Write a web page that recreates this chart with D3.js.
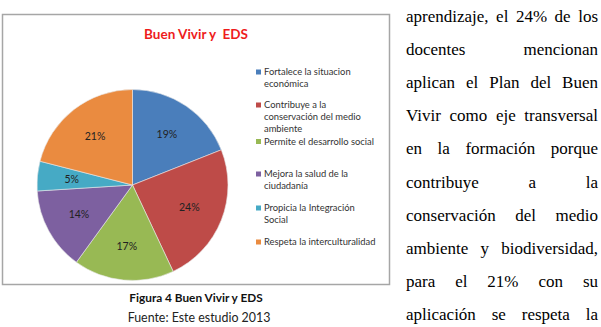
<!DOCTYPE html>
<html>
<head>
<meta charset="utf-8">
<script src="https://cdn.jsdelivr.net/npm/d3@7"></script>
<style>
  body { margin: 0; background: #fff; }
  svg { display: block; }
</style>
</head>
<body>
<script>
// data
var categories = [
    ['Fortalece la situacion', 'económica'],
    ['Contribuye a la', 'conservación del medio', 'ambiente'],
    ['Permite el desarrollo social'],
    ['Mejora la salud de la', 'ciudadanía'],
    ['Propicia la Integración', 'Social'],
    ['Respeta la interculturalidad']
];
var values = [19, 24, 17, 14, 5, 21];
var colors = ['#4a7ebb', '#be4b48', '#98b954', '#7d60a0', '#46aac5', '#ea8b40'];
var legendY = [72, 105, 141.5, 174, 208, 242];

var bodyLines = [
    'aprendizaje, el 24% de los',
    'docentes mencionan',
    'aplican el Plan del Buen',
    'Vivir como eje transversal',
    'en la formación porque',
    'contribuye a la',
    'conservación del medio',
    'ambiente y biodiversidad,',
    'para el 21% con su',
    'aplicación se respeta la'
];

var width = 601, height = 327,
    sans = 'Lato, "Open Sans", sans-serif';

var svg = d3.select('body').append('svg')
    .attr('width', width)
    .attr('height', height);

// chart frame
svg.append('rect')
    .attr('x', 2.5).attr('y', 14.5)
    .attr('width', 387).attr('height', 270)
    .attr('fill', '#fff')
    .attr('stroke', '#a6a6a6')
    .attr('stroke-width', 1.5);

svg.append('text')
    .attr('x', 196).attr('y', 39)
    .attr('text-anchor', 'middle')
    .attr('font-family', sans)
    .attr('font-weight', 'bold')
    .attr('font-size', 13.5)
    .attr('fill', '#ee1c1c')
    .attr('xml:space', 'preserve')
    .text('Buen Vivir y  EDS');

// pie
var cx = 132.5, cy = 185, r = 95.5;

var pie = d3.pie().sort(null).value(function (d) { return d; });
var arc = d3.arc().innerRadius(0).outerRadius(r);
var labelArc = d3.arc().innerRadius(r * 0.64).outerRadius(r * 0.64);

var g = svg.append('g').attr('transform', 'translate(' + cx + ',' + cy + ')');
var slices = pie(values);

g.selectAll('path')
    .data(slices)
    .enter().append('path')
    .attr('d', arc)
    .attr('fill', function (d, i) { return colors[i]; })
    .attr('stroke', '#e8e8e8')
    .attr('stroke-width', 0.6);

g.selectAll('text')
    .data(slices)
    .enter().append('text')
    .attr('transform', function (d) { return 'translate(' + labelArc.centroid(d) + ')'; })
    .attr('dy', '0.35em')
    .attr('text-anchor', 'middle')
    .attr('font-family', sans)
    .attr('font-size', 10.5)
    .attr('fill', '#222')
    .text(function (d) { return d.data + '%'; });

// legend
var legend = svg.append('g');
categories.forEach(function (lines, i) {
    legend.append('rect')
        .attr('x', 256).attr('y', legendY[i] - 2.5)
        .attr('width', 5).attr('height', 5)
        .attr('fill', colors[i]);
    lines.forEach(function (t, j) {
        legend.append('text')
            .attr('x', 264)
            .attr('y', legendY[i] + j * 12)
            .attr('dy', '0.35em')
            .attr('font-family', sans)
            .attr('font-size', 9.4)
            .attr('fill', '#333')
            .text(t);
    });
});

// caption
svg.append('text')
    .attr('x', 196).attr('y', 302)
    .attr('text-anchor', 'middle')
    .attr('font-family', sans)
    .attr('font-weight', 'bold')
    .attr('font-size', 11.8)
    .attr('fill', '#111')
    .text('Figura 4 Buen Vivir y EDS');

svg.append('text')
    .attr('x', 199).attr('y', 322)
    .attr('text-anchor', 'middle')
    .attr('font-family', sans)
    .attr('font-size', 12.4)
    .attr('fill', '#222')
    .text('Fuente: Este estudio 2013');

// justified body text on the right
var left = 406, right = 598;
bodyLines.forEach(function (line, i) {
    var words = line.split(' '),
        y = 22 + i * 33.1,
        nodes = words.map(function (w) {
            return svg.append('text')
                .attr('y', y)
                .attr('font-family', '"Liberation Serif", "Times New Roman", serif')
                .attr('font-size', 17)
                .attr('fill', '#000')
                .text(w);
        }),
        widths = nodes.map(function (n) { return n.node().getComputedTextLength(); }),
        total = d3.sum(widths),
        gap = words.length > 1 ? (right - left - total) / (words.length - 1) : 0,
        x = left;
    nodes.forEach(function (n, k) {
        n.attr('x', x);
        x += widths[k] + gap;
    });
});
</script>
</body>
</html>
